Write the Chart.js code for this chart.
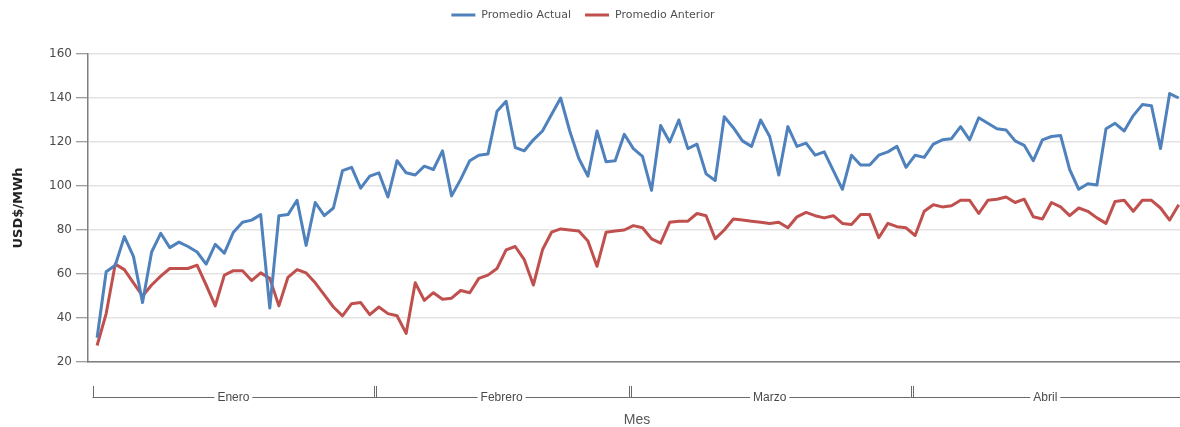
<!DOCTYPE html>
<html>
<head>
<meta charset="utf-8">
<script src="https://cdn.jsdelivr.net/npm/chart.js@4"></script>
<style>
  html, body { margin: 0; padding: 0; background: #fff; }
  #wrap { width: 1180px; height: 427px; }
</style>
</head>
<body>
<div id="wrap"><canvas id="chart" width="1180" height="427"></canvas></div>
<script>
// ─── Data ───
const months = ['Enero', 'Febrero', 'Marzo', 'Abril'];
const monthDays = [31, 28, 31, 30];
const yTicks = [20, 40, 60, 80, 100, 120, 140, 160];

const promedioActual = [
    31, 61, 64, 77, 68, 47, 70, 78.5, 72, 74.5, 72.5, 70, 64.5, 73.5, 69.5, 79, 83.5, 84.5, 87, 44.5,
    86.5, 87, 93.5, 73, 92.5, 86.5, 90, 107, 108.5, 99, 104.5, 106, 95, 111.5, 106, 105, 109, 107.5, 116, 95.5,
    103, 111.5, 114, 114.5, 134, 138.5, 117.5, 116, 121, 125, 132.5, 140, 125, 112.5, 104.5, 125, 111, 111.5, 123.5, 117,
    113.5, 98, 127.5, 120, 130, 117, 119, 105.5, 102.5, 131.5, 126.5, 120.5, 118, 130, 122.5, 105, 127, 118, 119.5, 114,
    115.5, 107, 98.5, 114, 109.5, 109.5, 114, 115.5, 118, 108.5, 114, 113, 119, 121, 121.5, 127, 121, 131, 128.5, 126,
    125.5, 120.5, 118.5, 111.5, 121, 122.5, 123, 107.5, 98.5, 101, 100.5, 126, 128.5, 125, 132, 137, 136.5, 117, 142, 140
];

const promedioAnterior = [
    27.5, 42, 64.5, 62, 56, 50, 55, 59, 62.5, 62.5, 62.5, 64, 55, 45.5, 59.5, 61.5, 61.5, 57, 60.5, 58,
    45.5, 58.5, 62, 60.5, 56, 50.5, 45, 41, 46.5, 47, 41.5, 45, 42, 41, 33, 56, 48, 51.5, 48.5, 49,
    52.5, 51.5, 58, 59.5, 62.5, 71, 72.5, 66.5, 55, 71, 79, 80.5, 80, 79.5, 75, 63.5, 79, 79.5, 80, 82,
    81, 76, 74, 83.5, 84, 84, 87.5, 86.5, 76, 80, 85, 84.5, 84, 83.5, 83, 83.5, 81, 86, 88, 86.5,
    85.5, 86.5, 83, 82.5, 87, 87, 76.5, 83, 81.5, 81, 77.5, 88.5, 91.5, 90.5, 91, 93.5, 93.5, 87.5, 93.5, 94,
    95, 92.5, 94, 86, 85, 92.5, 90.5, 86.5, 90, 88.5, 85.5, 83, 93, 93.5, 88.5, 93.5, 93.5, 90, 84.5, 91.5
];

// ─── Styles ───
const BLUE = '#4f81bd';
const RED = '#c0504d';
const AXIS = '#7f7f7f';
const GRID = '#e3e3e3';
const TEXT = '#4a4a4a';

const toPoints = arr => arr.map((v, i) => ({ x: i, y: v }));

// ─── Legend (top, centered) ───
const legendPlugin = {
    id: 'topLegend',
    afterDraw(chart) {
        const c = chart.ctx;
        const items = chart.data.datasets.map(ds => ({ label: ds.label, color: ds.borderColor }));
        c.save();
        c.font = "11px 'DejaVu Sans', sans-serif";
        c.textBaseline = 'middle';
        const sw = 24, gap = 6, between = 14;
        let total = 0;
        items.forEach((it, i) => {
            it.w = c.measureText(it.label).width;
            total += sw + gap + it.w + (i < items.length - 1 ? between : 0);
        });
        let x = 583 - total / 2;
        const y = 15;
        items.forEach(it => {
            c.fillStyle = it.color;
            c.fillRect(x, y - 1.5, sw, 3);
            x += sw + gap;
            c.fillStyle = '#505050';
            c.fillText(it.label, x, y);
            x += it.w + between;
        });
        c.restore();
    }
};

// ─── Month band under the x axis ───
const monthAxisPlugin = {
    id: 'monthAxis',
    afterDraw(chart) {
        const c = chart.ctx;
        const xs = chart.scales.x;
        const right = chart.chartArea.right;
        const yLine = 397.5, yTop = 386;
        c.save();
        c.strokeStyle = '#6a6a6a';
        c.lineWidth = 1;
        c.font = "12px 'Liberation Sans', sans-serif";
        c.fillStyle = TEXT;
        c.textAlign = 'center';
        c.textBaseline = 'middle';

        let start = -0.5;
        months.forEach((m, i) => {
            const x0 = xs.getPixelForValue(start);
            const x1 = i === months.length - 1 ? right : xs.getPixelForValue(start + monthDays[i]);
            // separator ticks (double at month joins)
            const px = Math.round(x0) + 0.5;
            c.beginPath();
            c.moveTo(px, yTop); c.lineTo(px, yLine);
            if (i > 0) { c.moveTo(px + 2, yTop); c.lineTo(px + 2, yLine); }
            c.stroke();

            const mid = (x0 + x1) / 2;
            const tw = c.measureText(m).width;
            c.beginPath();
            c.moveTo(x0, yLine); c.lineTo(mid - tw / 2 - 3, yLine);
            c.moveTo(mid + tw / 2 + 3, yLine); c.lineTo(x1, yLine);
            c.stroke();
            c.fillText(m, mid, yLine);
            start += monthDays[i];
        });

        c.font = "14px 'Liberation Sans', sans-serif";
        c.fillStyle = '#555';
        c.fillText('Mes', 637, 420);
        c.restore();
    }
};

new Chart(document.getElementById('chart'), {
    type: 'line',
    data: {
        datasets: [
            { label: 'Promedio Actual', data: toPoints(promedioActual), borderColor: BLUE, backgroundColor: BLUE },
            { label: 'Promedio Anterior', data: toPoints(promedioAnterior), borderColor: RED, backgroundColor: RED },
        ]
    },
    options: {
        responsive: false,
        animation: false,
        layout: { padding: { top: 54, right: 0, left: 11, bottom: 0 } },
        elements: {
            point: { radius: 0, hoverRadius: 0 },
            line: { borderWidth: 3, tension: 0, borderJoinStyle: 'round' },
        },
        plugins: {
            legend: { display: false },
            tooltip: { enabled: false },
        },
        scales: {
            x: {
                type: 'linear',
                min: -1,
                max: 119.14,
                grid: { display: false },
                ticks: { display: false },
                border: { color: AXIS, width: 1.5 },
                afterFit(scale) { scale.height = 427 - 362; },
            },
            y: {
                min: 20,
                max: 160,
                afterBuildTicks(scale) { scale.ticks = yTicks.map(v => ({ value: v })); },
                grid: { color: GRID, lineWidth: 1.5, tickColor: AXIS, tickLength: 12, tickWidth: 1 },
                border: { color: AXIS, width: 1.5 },
                ticks: { color: TEXT, font: { family: "'DejaVu Sans', sans-serif", size: 12 }, padding: 4 },
                title: {
                    display: true,
                    text: 'USD$/MWh',
                    color: '#222',
                    font: { family: "'DejaVu Sans', sans-serif", size: 13, weight: 'bold' },
                    padding: { top: 0, bottom: 6 },
                },
                afterFit(scale) { scale.width = 77; },
            }
        }
    },
    plugins: [legendPlugin, monthAxisPlugin]
});
</script>
</body>
</html>
